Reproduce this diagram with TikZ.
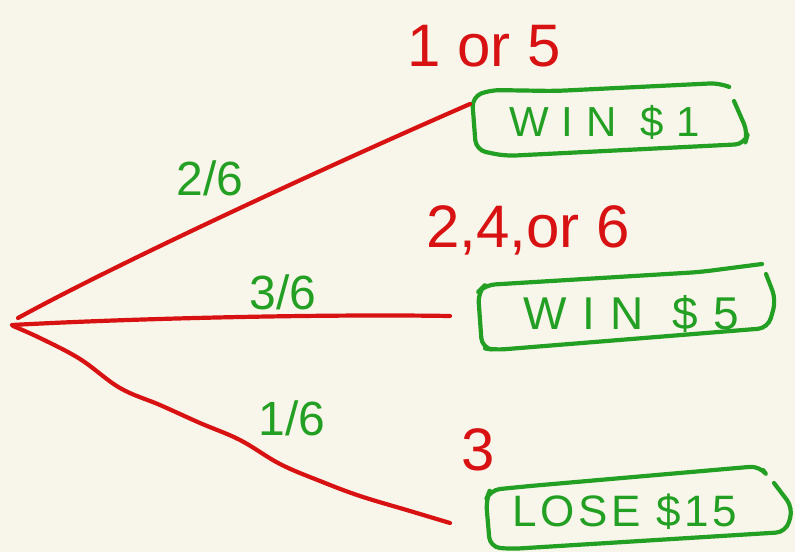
\documentclass[tikz,border=0pt]{standalone}
\usepackage{fontspec}
\setmainfont{Liberation Sans}
\definecolor{paper}{HTML}{F8F6EA}
\definecolor{inkred}{HTML}{D81212}
\definecolor{inkgreen}{HTML}{23A023}
\newcommand\tracked[3]{\fontsize{#1}{#1}\selectfont\addfontfeature{LetterSpace=#2}#3}
\begin{document}
\begin{tikzpicture}[x=1pt,y=-1pt,
  branch/.style={draw=inkred,line width=4.2pt,line cap=round,line join=round},
  frame/.style={draw=inkgreen,line width=4.2pt,line cap=round,line join=round,rounded corners=10pt},
  prize/.style={text=inkgreen,inner sep=0pt},
  prob/.style={text=inkgreen,font=\fontsize{48}{48}\selectfont,inner sep=0pt},
  roll/.style={text=inkred,font=\fontsize{60}{60}\selectfont,inner sep=0pt}]
\fill[paper] (0,0) rectangle (795,552);
\useasboundingbox (0,0) rectangle (795,552);

% root of the tree and branch ends
\coordinate (root) at (12,325);
\coordinate (endA) at (470,104);
\coordinate (endB) at (450,316);
\coordinate (endC) at (450,523);

% outcome boxes
\node[prize] (winone) at (605,122) {\tracked{42}{30}{WIN \$1}};
\node[prize] (winfive) at (631,314) {\tracked{46}{34}{WIN \$5}};
\node[prize] (losefifteen) at (625,512) {\tracked{44}{8}{LOSE \$15}};

% hand-drawn frames
\draw[frame] (727,86) -- (720,83) -- (555,91) -- (490,90) -- (472,97) -- (476,150) -- (505,156) -- (745,144) -- (748,133) -- (734,101);
\draw[frame] (762,264) -- (700,272) -- (485,285) -- (478,292) -- (482,348) -- (495,350) -- (768,328) -- (776,300) -- (766,274);
\draw[frame] (763,470) -- (760,466) -- (530,486) -- (490,490) -- (486,500) -- (490,547) -- (510,549) -- (786,532) -- (793,508) -- (774,483);

% branches
\draw[branch] (root) ++(6,-7) .. controls (120,262) and (330,165) .. (endA);
\draw[branch] (root) .. controls (140,318) and (330,314) .. (endB);
\draw[branch] plot[smooth,tension=0.6] coordinates {(13,326) (40,338) (80,359) (120,388)
  (160,405) (200,423) (240,440) (280,464) (320,481) (360,496) (410,511) (450,523)};

% probabilities on the branches
\node[prob] (pA) at (210,178) {2/6};
\node[prob] (pB) at (283,292) {3/6};
\node[prob] (pC) at (292,418) {1/6};

% die faces leading to each outcome
\node[roll] (rA) at (484,46) {1 or 5};
\node[roll] (rB) at (528,230) {2,4,or 6};
\node[roll] (rC) at (478,450) {3};
\end{tikzpicture}
\end{document}
